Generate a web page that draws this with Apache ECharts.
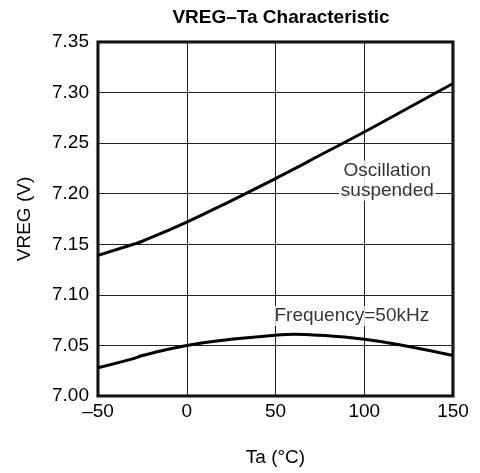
<!DOCTYPE html>
<html><head><meta charset="utf-8">
<script src="https://cdn.jsdelivr.net/npm/echarts@6/dist/echarts.min.js"></script>
<style>html,body{margin:0;padding:0;background:#fff}#c{width:480px;height:473px}</style>
</head><body><div id="c"></div>
<script>
var ta = [-50, -30, -25, 0, 25, 50, 60, 75, 100, 125, 150];
var vregOsc = [7.139, 7.150, 7.153, 7.172, 7.193, 7.215, 7.224, 7.238, 7.261, 7.285, 7.309];
var vreg50k = [7.028, 7.037, 7.040, 7.050, 7.056, 7.060, 7.061, 7.060, 7.056, 7.049, 7.040];
var xTicks = [-50, 0, 50, 100, 150];
var yTicks = [7.00, 7.05, 7.10, 7.15, 7.20, 7.25, 7.30, 7.35];
var labelOsc = {x: 113, y: 7.213, text: 'Oscillation\nsuspended'};
var label50k = {x: 93, y: 7.079, text: 'Frequency=50kHz'};

var font = '"Liberation Sans", Arial, sans-serif';
function pair(a, b) { return a.map(function (v, i) { return [v, b[i]]; }); }

var chart = echarts.init(document.getElementById('c'));
chart.setOption({
  animation: false,
  backgroundColor: '#fff',
  title: {
    text: 'VREG\u2013Ta Characteristic', left: 276, top: 3, textAlign: 'center',
    textStyle: {fontFamily: font, fontSize: 19, fontWeight: 'bold', color: '#000'}
  },
  grid: {left: 98, right: 27, top: 42, bottom: 77, show: true, borderColor: '#000', borderWidth: 3},
  xAxis: {
    type: 'value', min: xTicks[0], max: xTicks[xTicks.length - 1], interval: 50,
    name: 'Ta (\u00B0C)', nameLocation: 'middle', nameGap: 52,
    nameTextStyle: {fontFamily: font, fontSize: 19, color: '#000'},
    axisLine: {show: false}, axisTick: {show: false},
    axisLabel: {fontFamily: font, fontSize: 19, color: '#000', margin: 6,
      formatter: function (v) { return v < 0 ? '\u2013' + Math.abs(v) : String(v); }},
    splitLine: {show: true, lineStyle: {color: '#222', width: 1}}
  },
  yAxis: {
    type: 'value', min: yTicks[0], max: yTicks[yTicks.length - 1], interval: 0.05,
    name: 'VREG (V)', nameLocation: 'middle', nameGap: 64,
    nameTextStyle: {fontFamily: font, fontSize: 19, color: '#000'},
    axisLine: {show: false}, axisTick: {show: false},
    axisLabel: {fontFamily: font, fontSize: 19, color: '#000', margin: 9,
      formatter: function (v) { return v.toFixed(2); }},
    splitLine: {show: true, lineStyle: {color: '#222', width: 1}}
  },
  series: [
    {type: 'line', data: pair(ta, vregOsc), smooth: true, showSymbol: false,
     lineStyle: {color: '#000', width: 3}, z: 3},
    {type: 'line', data: pair(ta, vreg50k), smooth: true, showSymbol: false,
     lineStyle: {color: '#000', width: 3}, z: 3},
    {type: 'scatter', symbolSize: 0, z: 4,
     data: [[labelOsc.x, labelOsc.y, labelOsc.text], [label50k.x, label50k.y, label50k.text]],
     label: {show: true, position: 'inside', formatter: function (p) { return p.data[2]; },
       fontFamily: font, fontSize: 19, color: '#000', backgroundColor: '#fff',
       padding: [0, 2], lineHeight: 20, align: 'center', verticalAlign: 'middle'}}
  ]
});
</script></body></html>
